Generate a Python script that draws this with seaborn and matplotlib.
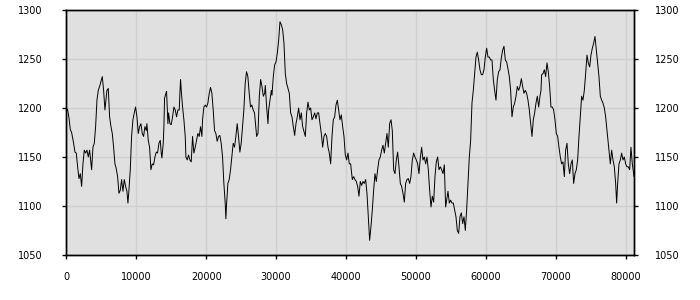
import matplotlib
matplotlib.use("Agg")
import matplotlib.pyplot as plt
import seaborn as sns
import pandas as pd

x_vals = [
    0, 190, 381, 572, 762, 1048, 1239, 1429, 1620, 1811, 2001, 2192, 2382, 2573, 2764, 2954, 3145, 3335, 3526, 3621,
    3812, 4003, 4193, 4384, 4574, 4765, 4956, 5146, 5337, 5527, 5623, 5813, 6004, 6194, 6385, 6576, 6766, 6957, 7147,
    7338, 7529, 7719, 7910, 8100, 8291, 8482, 8672, 8815, 8958, 9149, 9339, 9530, 9721, 9911, 10102, 10292, 10483,
    10674, 10864, 11055, 11245, 11436, 11531, 11722, 11913, 12103, 12294, 12484, 12675, 12866, 13056, 13247, 13437, 13580,
    13674, 13865, 13960, 14055, 14246, 14341, 14532, 14627, 14818, 15008, 15199, 15390, 15580, 15771, 15961, 16152,
    16247, 16343, 16438, 16629, 16819, 17010, 17105, 17296, 17486, 17677, 17867, 18058, 18249, 18439, 18630, 18820,
    19011, 19202, 19392, 19488, 19678, 19869, 20059, 20250, 20441, 20631, 20822, 21012, 21203, 21394, 21584, 21775,
    21965, 22156, 22347, 22537, 22728, 22823, 22918, 23109, 23300, 23490, 23681, 23871, 24062, 24253, 24443, 24634,
    24824, 25015, 25206, 25396, 25587, 25777, 25968, 26159, 26349, 26540, 26730, 26921,
    27224, 27415, 27606, 27797, 27987, 28178, 28369, 28464, 28655, 28846, 28941, 29132, 29322, 29418, 29608, 29799,
    29990, 30181, 30371, 30562, 30753, 30943, 31134, 31325, 31516, 31706, 31897, 32088, 32279, 32469, 32660, 32851,
    33041, 33232, 33423, 33614, 33804, 33995, 34186, 34376, 34567, 34758, 34949, 35139, 35330, 35521, 35711, 35902,
    36093, 36284, 36474, 36665, 36856, 37046, 37237, 37428, 37618, 37809, 38000, 38191, 38381, 38572, 38763, 38953,
    39144, 39335, 39526, 39716, 39907, 40098, 40288, 40479, 40670,
    40907, 41098, 41288, 41479, 41670, 41860, 42051, 42242, 42433, 42623, 42814, 43005, 43195, 43386, 43577, 43768,
    43958, 44149, 44340, 44530, 44721, 44912, 45103, 45293, 45484, 45675, 45866, 46056, 46247, 46438, 46628, 46819,
    47010, 47200, 47391, 47582, 47773, 47963, 48154, 48345, 48536, 48726, 48917, 49108, 49298, 49489, 49680, 49871,
    50061, 50252, 50443, 50634, 50824, 51015, 51206, 51396, 51587, 51778, 51969, 52159, 52350, 52541, 52731, 52922,
    53113, 53304, 53494, 53685, 53876, 54066, 54257,
    54399, 54590, 54781, 54972, 55162, 55353, 55544, 55734, 55925, 56116, 56307, 56497, 56688, 56879, 57070, 57260,
    57451, 57642, 57832, 58023, 58214, 58405, 58595, 58786, 58977, 59167, 59358, 59549, 59740, 59930, 60121, 60312,
    60502, 60693, 60884, 61075, 61265, 61456, 61647, 61838, 62028, 62219, 62410, 62600, 62791, 62982, 63173, 63363,
    63554, 63745, 63935, 64126, 64317, 64508, 64698, 64889, 65080, 65270, 65461, 65652, 65843, 66033, 66224, 66415,
    66606, 66796, 66987, 67178, 67368, 67559, 67750, 67893,
    67987, 68178, 68369, 68560, 68750, 68941, 69132, 69322, 69513, 69704, 69895, 70085, 70276, 70467, 70658, 70848,
    71039, 71230, 71420, 71611, 71802, 71993, 72183, 72374, 72565, 72755, 72946, 73137, 73328, 73518, 73709, 73900,
    74090, 74281, 74472, 74663, 74853, 75044, 75235, 75426, 75616, 75807, 75998, 76188, 76379, 76570, 76760, 76951,
    77142, 77333, 77523, 77714, 77809, 78000, 78191, 78382, 78572, 78715, 78858, 79049, 79240, 79430, 79621, 79812,
    80003, 80193, 80384, 80575, 80765, 80956, 81200,
]

y_vals = [
    1200, 1198, 1190, 1178, 1175, 1164, 1155, 1154, 1140, 1128, 1133, 1120, 1143, 1157, 1154, 1157, 1150, 1157, 1143, 1137,
    1160, 1164, 1181, 1208, 1218, 1222, 1227, 1232, 1218, 1198, 1205, 1218, 1220, 1191, 1181, 1174, 1160, 1143, 1138,
    1130, 1113, 1116, 1127, 1115, 1127, 1120, 1115, 1103, 1116, 1137, 1171, 1188, 1195, 1201, 1191, 1174, 1181,
    1184, 1174, 1171, 1181, 1177, 1184, 1167, 1160, 1137, 1143, 1142, 1150, 1155, 1154, 1164, 1167, 1154,
    1149, 1164, 1181, 1210, 1215, 1217, 1184, 1195, 1184, 1183, 1191, 1201, 1198, 1191, 1198, 1198,
    1215, 1229, 1218, 1201, 1188, 1171, 1150, 1147, 1152, 1147, 1145, 1171, 1154, 1160, 1167, 1174,
    1171, 1181, 1171, 1188, 1201, 1203, 1201, 1205, 1215, 1221, 1215, 1198, 1177, 1174, 1166, 1171,
    1172, 1164, 1150, 1123, 1103, 1087, 1101, 1123, 1127, 1137, 1150, 1164, 1160, 1171, 1184, 1171,
    1155, 1164, 1181, 1198, 1225, 1237, 1232, 1215, 1201, 1203, 1198, 1195,
    1171, 1174, 1212, 1229, 1222, 1212, 1215, 1223, 1201, 1184, 1198, 1208, 1218, 1213, 1232, 1244,
    1247, 1256, 1269, 1288, 1285, 1280, 1266, 1235, 1225, 1220, 1215, 1195, 1191, 1181, 1172, 1184,
    1191, 1200, 1188, 1195, 1181, 1176, 1171, 1195, 1206, 1198, 1200, 1188, 1191, 1195, 1189, 1195,
    1195, 1184, 1174, 1160, 1171, 1174, 1171, 1160, 1154, 1143, 1171, 1188, 1191, 1203, 1208, 1198,
    1188, 1193, 1181, 1171, 1152, 1147, 1154, 1143, 1143,
    1127, 1130, 1127, 1125, 1120, 1110, 1125, 1121, 1125, 1123, 1127, 1113, 1089, 1065, 1079, 1096,
    1116, 1133, 1125, 1137, 1147, 1150, 1157, 1162, 1154, 1164, 1174, 1160, 1184, 1188, 1177, 1137,
    1133, 1147, 1155, 1140, 1123, 1120, 1113, 1104, 1123, 1127, 1128, 1123, 1130, 1147, 1154, 1150,
    1147, 1143, 1133, 1149, 1160, 1147, 1150, 1143, 1150, 1137, 1116, 1099, 1110, 1104, 1130, 1145,
    1150, 1137, 1140, 1137, 1133, 1142, 1099,
    1106, 1115, 1103, 1106, 1103, 1103, 1096, 1089, 1075, 1072, 1089, 1093, 1082, 1089, 1075, 1096,
    1123, 1150, 1167, 1205, 1218, 1235, 1252, 1257, 1249, 1239, 1234, 1234, 1239, 1252, 1261, 1252,
    1252, 1249, 1249, 1229, 1218, 1208, 1229, 1237, 1239, 1251, 1259, 1263, 1249, 1247, 1240, 1232,
    1218, 1191, 1201, 1205, 1212, 1222, 1218, 1222, 1230, 1222, 1215, 1218, 1215, 1208, 1198, 1184,
    1171, 1188, 1195, 1205, 1212, 1201, 1212, 1218,
    1234, 1235, 1239, 1232, 1246, 1237, 1222, 1201, 1201, 1198, 1188, 1174, 1171, 1160, 1150, 1143,
    1145, 1130, 1157, 1164, 1143, 1133, 1143, 1147, 1123, 1133, 1137, 1147, 1171, 1191, 1212, 1208,
    1218, 1235, 1254, 1246, 1242, 1254, 1261, 1266, 1273, 1259, 1246, 1232, 1212, 1208, 1205, 1200,
    1191, 1177, 1164, 1150, 1143, 1157, 1147, 1140, 1123, 1103, 1123, 1143, 1147, 1154, 1147, 1150,
    1143, 1140, 1140, 1137, 1160, 1143, 1130,
]

x_ticks = [0, 10000, 20000, 30000, 40000, 50000, 60000, 70000, 80000]
y_ticks = [1050, 1100, 1150, 1200, 1250, 1300]

df = pd.DataFrame({"x": x_vals, "y": y_vals})

sns.set_style("whitegrid", {"axes.facecolor": "#e0e0e0", "grid.color": "#d0d0d0",
                            "axes.edgecolor": "black"})
plt.rcParams["font.family"] = ["DejaVu Sans"]

fig = plt.figure(figsize=(7, 3), dpi=100)
ax = fig.add_axes([66.3 / 700, 45 / 300, (634.3 - 66.3) / 700, 245 / 300])
sns.lineplot(data=df, x="x", y="y", ax=ax, color="black", linewidth=0.7,
             estimator=None, sort=False)

ax.set_xlim(0, 81240)
ax.set_ylim(1050, 1300)
ax.set_xticks(x_ticks)
ax.set_yticks(y_ticks)
ax.set_xlabel("")
ax.set_ylabel("")
ax.grid(True, color="#d0d0d0", linewidth=1.0)
for s in ax.spines.values():
    s.set_color("black")
    s.set_linewidth(1.0)
ax.tick_params(axis="x", bottom=True, direction="out", length=3, width=1,
               labelsize=7, pad=9, colors="black")
ax.tick_params(axis="y", left=True, direction="out", length=3, width=1,
               labelsize=7, pad=14, colors="black")

ax2 = ax.twinx()
ax2.set_ylim(1050, 1300)
ax2.set_yticks(y_ticks)
ax2.grid(False)
for s in ax2.spines.values():
    s.set_color("black")
    s.set_linewidth(1.0)
ax2.tick_params(axis="y", right=True, direction="out", length=3, width=1,
                labelsize=7, pad=12, colors="black")

fig.savefig("out.png", dpi=100)
